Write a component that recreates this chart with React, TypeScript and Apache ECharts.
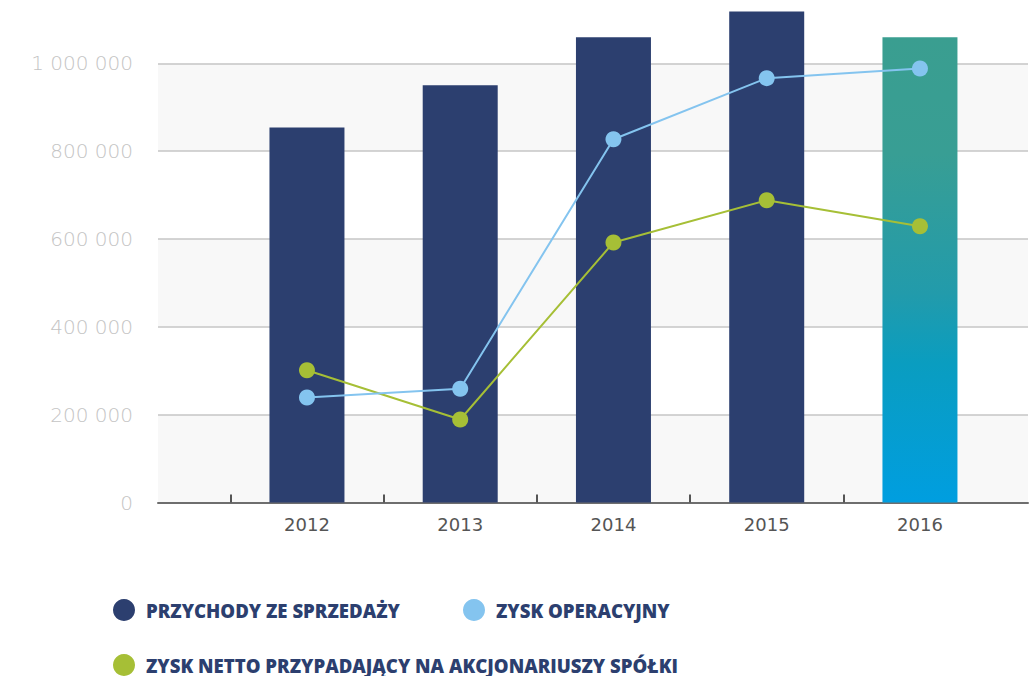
import React, { useEffect, useRef } from "react";
import * as echarts from "echarts";

const years = [2012, 2013, 2014, 2015, 2016];
const przychody = [854000, 950000, 1059000, 1118000, 1059000];
const zyskOperacyjny = [239000, 259000, 827000, 966000, 988000];
const zyskNetto = [301000, 189000, 592000, 688000, 629000];
const tickPositions = [2011.5, 2012.5, 2013.5, 2014.5, 2015.5];
const yTicks = [0, 200000, 400000, 600000, 800000, 1000000];

const NAME_BAR = "PRZYCHODY ZE SPRZEDAŻY";
const NAME_OP = "ZYSK OPERACYJNY";
const NAME_NET = "ZYSK NETTO PRZYPADAJĄCY NA AKCJONARIUSZY SPÓŁKI";

const fmt = (v: number) => String(Math.round(v)).replace(/\B(?=(\d{3})+(?!\d))/g, " ");

export default function App() {
  const ref = useRef<HTMLDivElement>(null);
  useEffect(() => {
    if (!ref.current) return;
    const chart = echarts.init(ref.current, null, { renderer: "svg" });
    const navy = "#2c3f6f";
    const legendText = {
      color: "#2c3f6f",
      fontFamily: "Open Sans",
      fontWeight: 800 as any,
      fontSize: 18.6,
      padding: [0, 0, 0, 6],
    };
    const legendCommon = {
      icon: "circle",
      itemWidth: 22,
      itemHeight: 22,
      orient: "horizontal" as const,
      selectedMode: false,
      textStyle: legendText,
      padding: 0,
    };
    chart.setOption({
      animation: false,
      grid: { left: 158, right: 3, top: 0, bottom: 173.5, containLabel: false },
      legend: [
        { ...legendCommon, data: [NAME_BAR], left: 113, top: 599 },
        { ...legendCommon, data: [NAME_OP], left: 463, top: 599 },
        { ...legendCommon, data: [NAME_NET], left: 113, top: 654 },
      ],
      xAxis: {
        type: "value",
        min: 2011.028,
        max: 2016.705,
        splitLine: { show: false },
        axisLine: { show: true, lineStyle: { color: "#6e6e6e", width: 2 } },
        axisTick: {
          show: true,
          inside: true,
          length: 8,
          customValues: tickPositions,
          lineStyle: { color: "#555", width: 2 },
        },
        axisLabel: {
          customValues: years,
          formatter: (v: number) => String(Math.round(v)),
          color: "#555",
          fontFamily: "DejaVu Sans",
          fontSize: 18,
          margin: 13,
        },
      },
      yAxis: {
        type: "value",
        min: 0,
        max: 1144000,
        interval: 200000,
        axisLine: { show: false },
        axisTick: { show: false },
        axisLabel: {
          customValues: yTicks,
          formatter: (v: number) => fmt(v),
          color: "#c4c4c4",
          fontFamily: "DejaVu Sans",
          fontWeight: 200,
          fontSize: 20,
          margin: 25,
        },
        splitLine: { show: true, showMaxLine: false, lineStyle: { color: "#c6c6c6", width: 1.5 } },
        splitArea: { show: true, areaStyle: { color: ["#f8f8f8", "#ffffff"] } },
      },
      series: [
        {
          name: NAME_BAR,
          type: "bar",
          barWidth: 75,
          itemStyle: { color: navy },
          data: years.map((y, i) => {
            const d: any = { value: [y, przychody[i]] };
            if (y === 2016) {
              d.itemStyle = {
                color: new echarts.graphic.LinearGradient(0, 0, 0, 1, [
                  { offset: 0, color: "#3a9e90" },
                  { offset: 0.25, color: "#389e94" },
                  { offset: 0.55, color: "#229bab" },
                  { offset: 0.7, color: "#0a9dc0" },
                  { offset: 1, color: "#009ee0" },
                ]),
              };
            }
            return d;
          }),
          z: 2,
        },
        {
          name: NAME_OP,
          type: "line",
          symbol: "circle",
          symbolSize: 16,
          itemStyle: { color: "#84c4ef" },
          lineStyle: { color: "#84c4ef", width: 2 },
          data: years.map((y, i) => [y, zyskOperacyjny[i]]),
          z: 4,
        },
        {
          name: NAME_NET,
          type: "line",
          symbol: "circle",
          symbolSize: 16,
          itemStyle: { color: "#a6bf36" },
          lineStyle: { color: "#a6bf36", width: 2 },
          data: years.map((y, i) => [y, zyskNetto[i]]),
          z: 3,
        },
      ],
    });
    return () => chart.dispose();
  }, []);
  return (
    <div
      ref={ref}
      style={{ position: "fixed", left: 0, top: 0, width: 1031, height: 676, background: "#fff" }}
    />
  );
}
